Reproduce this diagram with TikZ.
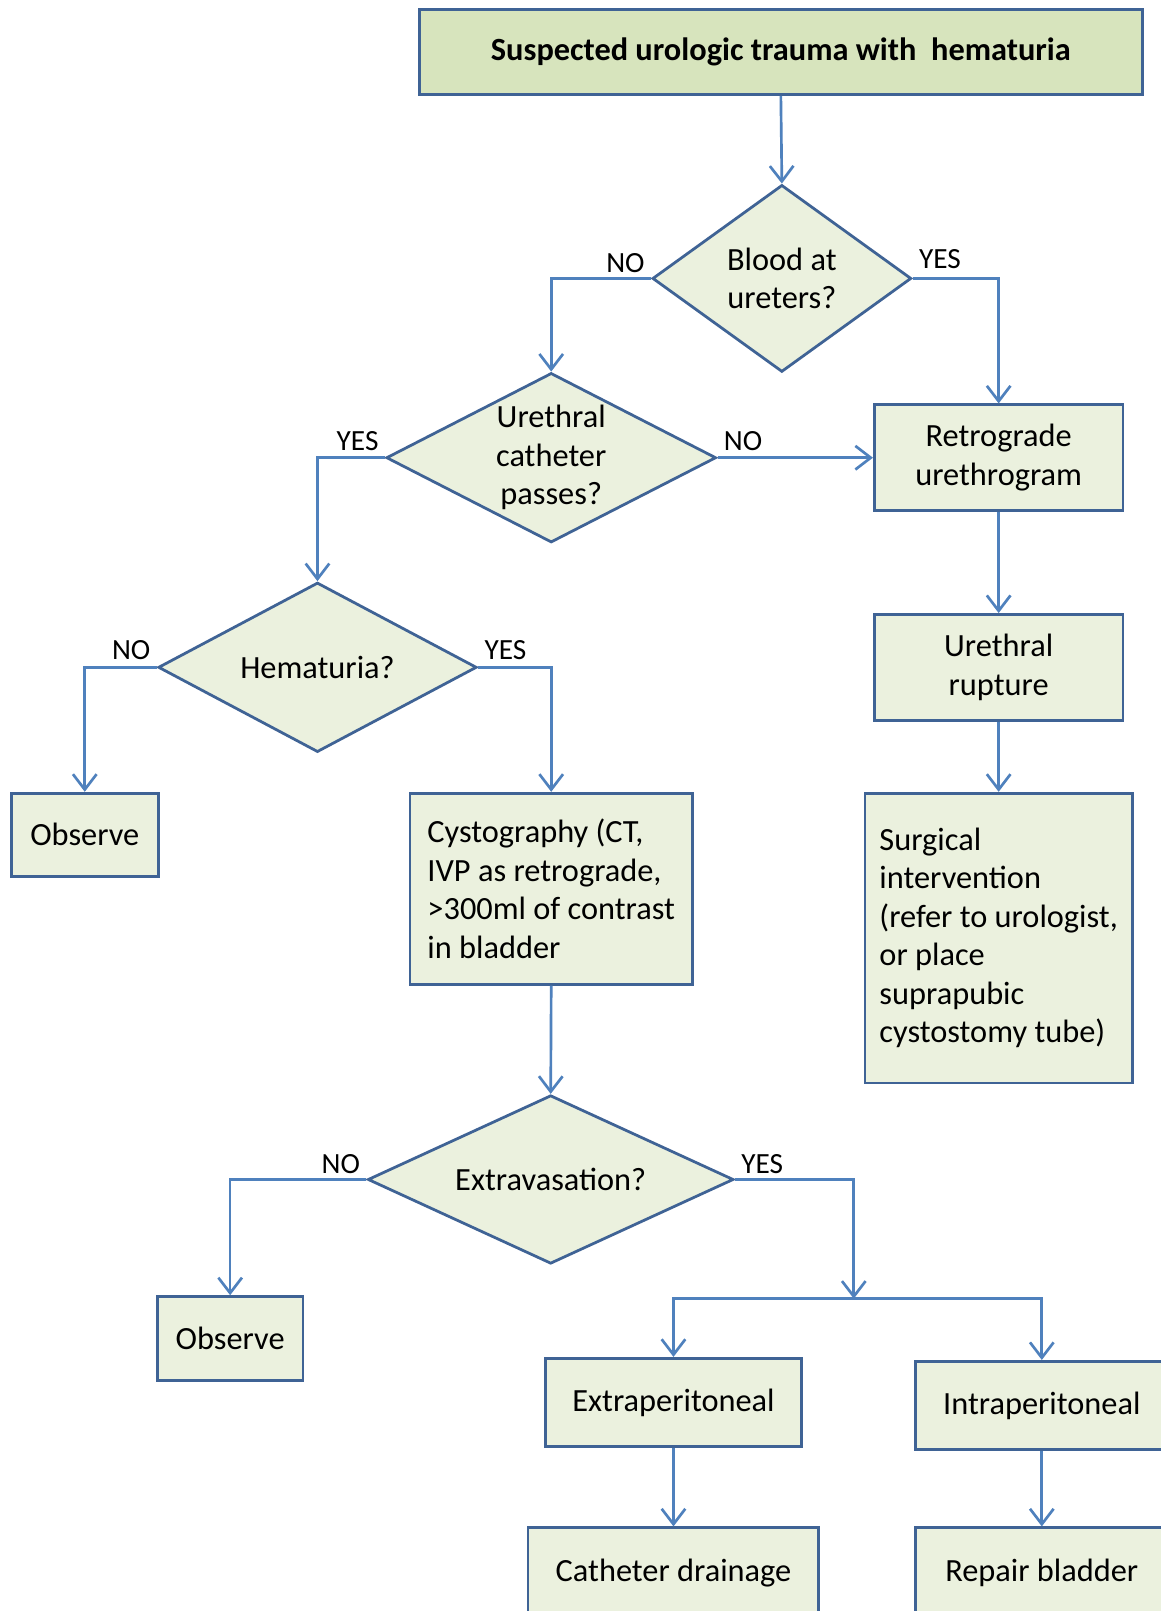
\documentclass[tikz,border=0pt]{standalone}
\usepackage{fontspec}
\setmainfont{Carlito}
\usetikzlibrary{arrows.meta,shapes.geometric}
\definecolor{bordc}{HTML}{3F6395}
\definecolor{linec}{HTML}{4F81BD}
\definecolor{fillL}{HTML}{EBF1DE}
\definecolor{fillT}{HTML}{D7E4BD}
\begin{document}
\begin{tikzpicture}[x=1pt,y=-1pt,
  box/.style={draw=bordc, fill=fillL, line width=2.7pt, inner sep=0pt,
    font=\fontsize{31.5}{37.5}\selectfont, align=center},
  dia/.style={diamond, draw=bordc, fill=fillL, line width=2.7pt, inner sep=0pt},
  diatext/.style={font=\fontsize{31.5}{37.5}\selectfont, align=center, inner sep=0pt},
  arr/.style={draw=linec, line width=2.6pt, -{Straight Barb[length=15pt,width=23pt]}},
  lbl/.style={font=\fontsize{28.5}{30}\selectfont, inner xsep=5pt, inner ysep=4pt, text=black}]
\useasboundingbox (0,0) rectangle (1130,1568);
\clip (0,0) rectangle (1130,1568);
\fill[white] (0,0) rectangle (1130,1568);

% nodes
\node[box, fill=fillT, minimum width=704pt, minimum height=83pt, font=\fontsize{31.5}{38}\selectfont\bfseries] (title) at (760,50.5) {Suspected urologic trauma with\ \ hematuria};

\node[dia, minimum width=252pt, minimum height=182pt] (d1) at (761,271) {};
\node[diatext] (d1t) at (d1) {Blood at\\ureters?};

\node[dia, minimum width=321pt, minimum height=165pt] (d2) at (536.5,445.5) {};
\node[diatext] (d2t) at (d2) {Urethral\\catheter\\passes?};

\node[box, minimum width=242pt, minimum height=103pt] (retro) at (972,445.5) {Retrograde\\urethrogram};
\node[box, minimum width=242pt, minimum height=103pt] (rupt) at (972,649.5) {Urethral\\rupture};
\node[box, minimum width=260pt, minimum height=282pt, align=left] (surg) at (972,913) {Surgical\\intervention\\(refer to urologist,\\or place\\suprapubic\\cystostomy tube)};

\node[dia, minimum width=310pt, minimum height=165pt] (d3) at (309,649.5) {};
\node[diatext] (d3t) at (d3) {Hematuria?};

\node[box, minimum width=143pt, minimum height=81pt] (obs1) at (82.5,812.5) {Observe};
\node[box, minimum width=275pt, minimum height=186pt, align=left] (cysto) at (536.5,865) {Cystography (CT,\\IVP as retrograde,\\>300ml of contrast\\in bladder};

\node[dia, minimum width=356pt, minimum height=164pt] (d4) at (536,1148) {};
\node[diatext] (d4t) at (d4) {Extravasation?};

\node[box, minimum width=142pt, minimum height=82pt] (obs2) at (224,1303) {Observe};
\node[box, minimum width=249pt, minimum height=86pt] (extra) at (655.5,1365) {Extraperitoneal};
\node[box, minimum width=246pt, minimum height=86pt] (intra) at (1014,1368) {Intraperitoneal};
\node[box, minimum width=283pt, minimum height=88pt] (cath) at (655.5,1531) {Catheter drainage};
\node[box, minimum width=246pt, minimum height=88pt] (repair) at (1014,1531) {Repair bladder};

\coordinate (j) at (831,1264);

% connectors
\draw[arr] (title.south) -- (d1.north);
\draw[arr] (d1.west) -| (d2.north) node[lbl, pos=0, anchor=south east] (l1) {NO};
\draw[arr] (d1.east) -| (retro.north) node[lbl, pos=0, anchor=south west, yshift=4pt] (l2) {YES};
\draw[arr] (d2.east) -- (retro.west) node[lbl, pos=0, anchor=south west, yshift=2pt] (l3) {NO};
\draw[arr] (d2.west) -| (d3.north) node[lbl, pos=0, anchor=south east, yshift=2pt] (l4) {YES};
\draw[arr] (retro.south) -- (rupt.north);
\draw[arr] (rupt.south) -- (surg.north);
\draw[arr] (d3.west) -| (obs1.north) node[lbl, pos=0, anchor=south east, yshift=2pt] (l5) {NO};
\draw[arr] (d3.east) -| (cysto.north) node[lbl, pos=0, anchor=south west, yshift=2pt] (l6) {YES};
\draw[arr] (cysto.south) -- (d4.north);
\draw[arr] (d4.west) -| (obs2.north) node[lbl, pos=0, anchor=south east] (l7) {NO};
\draw[arr] (d4.east) -| (j) node[lbl, pos=0, anchor=south west] (l8) {YES};
\draw[arr] (j) -| (extra.north);
\draw[arr] (j) -| (intra.north);
\draw[arr] (extra.south) -- (cath.north);
\draw[arr] (intra.south) -- (repair.north);
\end{tikzpicture}
\end{document}
